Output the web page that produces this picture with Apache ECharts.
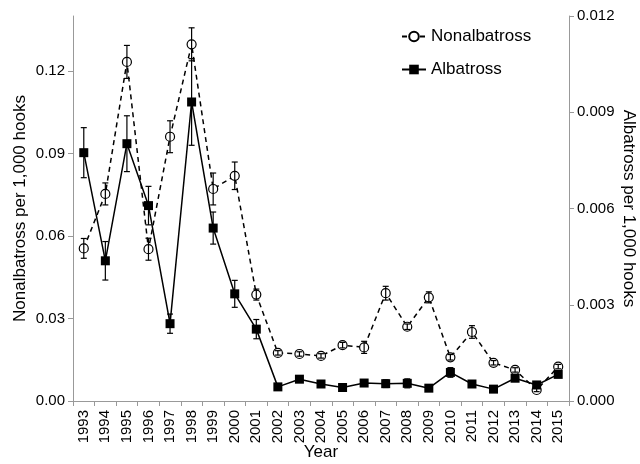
<!DOCTYPE html>
<html>
<head>
<meta charset="utf-8">
<script src="https://cdn.jsdelivr.net/npm/echarts@6/dist/echarts.min.js"></script>
<style>html,body{margin:0;padding:0;background:#fff}#c{width:640px;height:464px}</style>
</head>
<body>
<div id="c"></div>
<script>
const years = ['1993','1994','1995','1996','1997','1998','1999','2000','2001','2002','2003','2004','2005','2006','2007','2008','2009','2010','2011','2012','2013','2014','2015'];
const nonalbatross = [0.0555,0.0753,0.1233,0.0552,0.0961,0.1297,0.0771,0.0819,0.0387,0.0175,0.0171,0.0164,0.0203,0.0195,0.0392,0.0270,0.0377,0.0159,0.0251,0.0139,0.0113,0.0040,0.0125];
const nonalbatrossSE = [0.0036,0.0040,0.0060,0.0040,0.0058,0.0060,0.0058,0.0050,0.0020,0.0008,0.0008,0.0008,0.0010,0.0022,0.0025,0.0010,0.0020,0.0010,0.0023,0.0008,0.0008,0.0006,0.0008];
const albatross = [0.00774,0.00437,0.00802,0.00609,0.00241,0.00932,0.00539,0.00334,0.00224,0.00044,0.00068,0.00053,0.00042,0.00056,0.00054,0.00055,0.00040,0.00089,0.00053,0.00037,0.00071,0.00050,0.00083];
const albatrossSE = [0.00078,0.00060,0.00087,0.00060,0.00030,0.00135,0.00050,0.00042,0.00030,0.00008,0.00010,0.00008,0.00006,0.00010,0.00012,0.00014,0.00006,0.00015,0.00010,0.00006,0.00010,0.00010,0.00010];
const leftTicks = [0, 0.03, 0.06, 0.09, 0.12];
const rightTicks = [0, 0.003, 0.006, 0.009, 0.012];

const FONT = 'Liberation Sans';
function errRender(params, api) {
  const x = api.value(0), y = api.value(1), e = api.value(2);
  const hi = api.coord([x, y + e]);
  const lo = api.coord([x, Math.max(0, y - e)]);
  const hw = 3;
  const st = { stroke: '#000', lineWidth: 1.2 };
  return { type: 'group', children: [
    { type: 'line', shape: { x1: hi[0], y1: hi[1], x2: lo[0], y2: lo[1] }, style: st },
    { type: 'line', shape: { x1: hi[0] - hw, y1: hi[1], x2: hi[0] + hw, y2: hi[1] }, style: st },
    { type: 'line', shape: { x1: lo[0] - hw, y1: lo[1], x2: lo[0] + hw, y2: lo[1] }, style: st }
  ]};
}
const axisLineStyle = { color: '#999', width: 1 };
const chart = echarts.init(document.getElementById('c'), null, { renderer: 'canvas' });
chart.setOption({
  animation: false,
  textStyle: { fontFamily: FONT },
  grid: { left: 73, right: 71, top: 16, bottom: 63, containLabel: false, outerBoundsMode: 'none' },
  legend: {
    orient: 'vertical', left: 396, top: 23, itemWidth: 24, itemHeight: 12, itemGap: 16,
    textStyle: { fontFamily: FONT, fontSize: 17, color: '#000' },
    data: ['Nonalbatross', 'Albatross']
  },
  xAxis: {
    type: 'category', data: years, boundaryGap: true,
    name: 'Year', nameLocation: 'middle', nameGap: 43, nameMoveOverlap: false,
    nameTextStyle: { fontFamily: FONT, fontSize: 17, color: '#000' },
    axisLine: { lineStyle: axisLineStyle },
    axisTick: { show: true, length: 5, lineStyle: axisLineStyle, alignWithLabel: false },
    axisLabel: { rotate: 90, fontSize: 15, color: '#000', margin: 9, interval: 0, fontFamily: FONT }
  },
  yAxis: [
    {
      type: 'value', min: 0, max: 0.14, interval: 0.01, position: 'left',
      name: 'Nonalbatross per 1,000 hooks', nameLocation: 'middle', nameGap: 44, nameMoveOverlap: false,
      nameTextStyle: { fontFamily: FONT, fontSize: 17, color: '#000' },
      axisLine: { show: true, lineStyle: axisLineStyle },
      axisTick: { show: true, length: 5, lineStyle: axisLineStyle, customValues: leftTicks },
      axisLabel: { fontSize: 15, color: '#000', margin: 8, customValues: leftTicks, formatter: v => v.toFixed(2), fontFamily: FONT },
      splitLine: { show: false }
    },
    {
      type: 'value', min: 0, max: 0.012, interval: 0.003, position: 'right',
      name: 'Albatross per 1,000 hooks', nameLocation: 'middle', nameGap: 51, nameRotate: -90, nameMoveOverlap: false,
      nameTextStyle: { fontFamily: FONT, fontSize: 17, color: '#000' },
      axisLine: { show: true, lineStyle: axisLineStyle },
      axisTick: { show: true, length: 5, lineStyle: axisLineStyle, customValues: rightTicks },
      axisLabel: { fontSize: 15, color: '#000', margin: 8, customValues: rightTicks, formatter: v => v.toFixed(3), fontFamily: FONT },
      splitLine: { show: false }
    }
  ],
  series: [
    {
      name: 'Nonalbatross', type: 'line', yAxisIndex: 0, data: nonalbatross,
      symbol: 'circle', symbolSize: 9,
      lineStyle: { color: '#000', width: 1.5, type: [5, 4] },
      itemStyle: { color: '#fff', borderColor: '#000', borderWidth: 1.2 },
      z: 3
    },
    {
      name: 'Albatross', type: 'line', yAxisIndex: 1, data: albatross,
      symbol: 'rect', symbolSize: 9,
      lineStyle: { color: '#000', width: 1.5, type: 'solid' },
      itemStyle: { color: '#000', borderColor: '#000', borderWidth: 0 },
      z: 4
    },
    {
      type: 'custom', yAxisIndex: 0, renderItem: errRender, z: 5, silent: true,
      data: years.map((y, i) => [i, nonalbatross[i], nonalbatrossSE[i]]),
      encode: { x: 0, y: 1 }
    },
    {
      type: 'custom', yAxisIndex: 1, renderItem: errRender, z: 5, silent: true,
      data: years.map((y, i) => [i, albatross[i], albatrossSE[i]]),
      encode: { x: 0, y: 1 }
    }
  ]
});
</script>
</body>
</html>
